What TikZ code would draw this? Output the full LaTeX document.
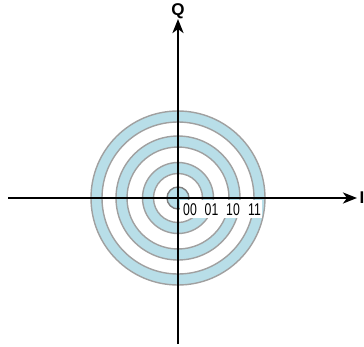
\documentclass[tikz,border=0pt]{standalone}
\usepackage{fontspec}
\setmainfont{Liberation Sans}
\usetikzlibrary{arrows.meta}
\definecolor{ringblue}{HTML}{B8DEE8}
\definecolor{ringgray}{HTML}{A0A0A0}
\tikzset{
  ring/.style={fill=ringblue, draw=ringgray, line width=1.4pt, even odd rule},
  axis/.style={line width=2.4pt, -{Stealth[length=14pt,width=11pt,inset=4pt]}},
  axislabel/.style={font=\fontsize{17}{17}\selectfont\bfseries, inner sep=0pt},
  codelabel/.style={font=\fontsize{17}{17}\selectfont, inner sep=0pt, anchor=center}
}
\begin{document}
\begin{tikzpicture}[x=1pt,y=-1pt]
\useasboundingbox (0,0) rectangle (364,346);
\coordinate (c) at (178,198);
\path[ring] (c) circle (87) (c) circle (76);
\path[ring] (c) circle (62) (c) circle (51);
\path[ring] (c) circle (35.5) (c) circle (24.5);
\path[fill=ringblue, draw=gray, line width=1.4pt] (c) circle (11);
\coordinate (xl) at (8,198);
\coordinate (xr) at (357,198);
\coordinate (yb) at (178,344);
\coordinate (yt) at (178,19);
\draw[axis] (xl) -- (xr);
\draw[axis] (yb) -- (yt);
\node[axislabel] (Q) at (178,11) {Q};
\node[axislabel] (I) at (362,198) {I};
\fill[white] (179.5,200) rectangle (262,217.5);
\node[codelabel] (l00) at (190,209.5) {\scalebox{0.72}[1]{00}};
\node[codelabel] (l01) at (211.5,209.5) {\scalebox{0.72}[1]{01}};
\node[codelabel] (l10) at (233,209.5) {\scalebox{0.72}[1]{10}};
\node[codelabel] (l11) at (254.5,209.5) {\scalebox{0.72}[1]{11}};
\end{tikzpicture}
\end{document}
